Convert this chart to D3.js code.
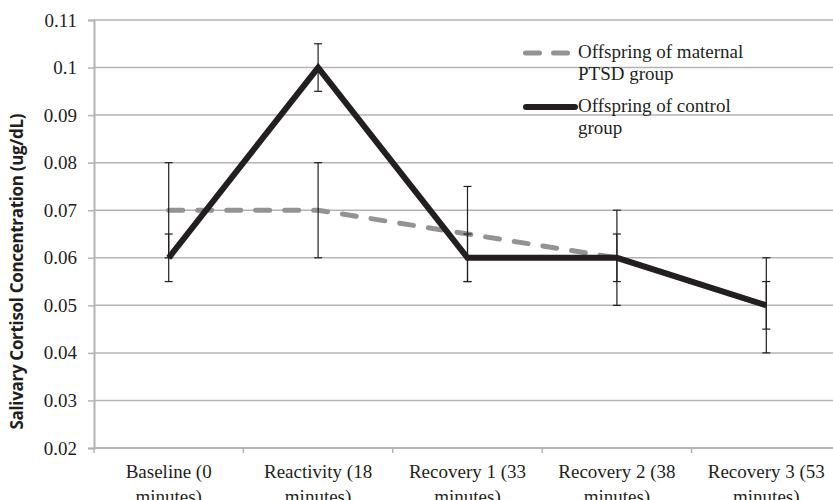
<!DOCTYPE html>
<html>
<head>
<meta charset="utf-8">
<script src="https://cdn.jsdelivr.net/npm/d3@7"></script>
<style>
  body { margin: 0; background: #fff; }
  svg { display: block; }
</style>
</head>
<body>
<svg id="chart"></svg>
<script>
(function () {

  var categories = [
    ['Baseline (0', 'minutes)'],
    ['Reactivity (18', 'minutes)'],
    ['Recovery 1 (33', 'minutes)'],
    ['Recovery 2 (38', 'minutes)'],
    ['Recovery 3 (53', 'minutes)']
  ];
  var ptsdValues = [0.07, 0.07, 0.065, 0.06, 0.05];
  var ptsdErrors = [0.01, 0.01, 0.01, 0.01, 0.01];
  var controlValues = [0.06, 0.1, 0.06, 0.06, 0.05];
  var controlErrors = [0.005, 0.005, 0.005, 0.005, 0.005];
  var yTicks = [0.02, 0.03, 0.04, 0.05, 0.06, 0.07, 0.08, 0.09, 0.1, 0.11];
  var legendLabels = [
    ['Offspring of maternal', 'PTSD group'],
    ['Offspring of control', 'group']
  ];

  var width = 833, height = 500;
  var margin = {top: 20, right: -8, bottom: 52, left: 94};
  var w = width - margin.left - margin.right,
      h = height - margin.top - margin.bottom;

  var svg = d3.select("#chart").attr("width", width).attr("height", height);
  var g = svg.append("g").attr("transform", "translate(" + margin.left + "," + margin.top + ")");

  var idx = d3.range(categories.length);
  var x = d3.scaleBand().domain(idx).range([0, w]);
  var y = d3.scaleLinear().domain([0.02, 0.11]).range([h, 0]);
  var cx = function(i) { return x(i) + x.bandwidth() / 2; };

  var serif = "'Liberation Serif', serif";
  var textColor = "#231f20";
  var gridColor = "#b3b3b3";

  // gridlines
  g.selectAll(".grid").data(yTicks).enter().append("line")
    .attr("x1", 0).attr("x2", w)
    .attr("y1", function(d) { return y(d); }).attr("y2", function(d) { return y(d); })
    .style("stroke", gridColor).style("stroke-width", 1.5);

  // y axis
  var yAxis = g.append("g").attr("class", "axis axis--y")
    .call(d3.axisLeft(y).tickValues(yTicks).tickSize(6)
      .tickFormat(function(d) { return +d.toFixed(2) + ""; }));
  yAxis.select(".domain").style("stroke", gridColor).style("stroke-width", 2);
  yAxis.selectAll(".tick line").style("stroke", gridColor).style("stroke-width", 1.5);
  yAxis.selectAll("text")
    .attr("x", -17)
    .style("font-family", serif).style("font-size", "19px").style("fill", textColor);

  // x axis
  var xAxis = g.append("g").attr("class", "axis axis--x")
    .attr("transform", "translate(0," + h + ")");
  xAxis.append("line").attr("x1", 0).attr("x2", w)
    .style("stroke", gridColor).style("stroke-width", 2);
  xAxis.selectAll(".xtick").data(d3.range(categories.length + 1)).enter().append("line")
    .attr("x1", function(i) { return i * x.bandwidth(); })
    .attr("x2", function(i) { return i * x.bandwidth(); })
    .attr("y1", 0).attr("y2", 5)
    .style("stroke", gridColor).style("stroke-width", 1.5);
  var xl = xAxis.selectAll(".xlabel").data(idx).enter().append("text")
    .attr("x", cx).attr("y", 30)
    .style("text-anchor", "middle")
    .style("font-family", serif).style("font-size", "19px").style("fill", textColor);
  xl.append("tspan").attr("x", cx).attr("dy", 0).text(function(i) { return categories[i][0]; });
  xl.append("tspan").attr("x", cx).attr("dy", 25).text(function(i) { return categories[i][1]; });

  // y title
  g.append("text")
    .attr("transform", "translate(" + (23 - margin.left) + "," + (271.5 - margin.top) + ") rotate(-90)")
    .attr("textLength", 316).attr("lengthAdjust", "spacing")
    .style("text-anchor", "middle")
    .style("font-family", "'Open Sans', sans-serif").style("font-weight", "bold")
    .style("font-size", "17px").style("fill", textColor)
    .text("Salivary Cortisol Concentration (ug/dL)");

  var line = d3.line()
    .x(function(d, i) { return cx(i); })
    .y(function(d) { return y(d); });

  // PTSD series (dashed)
  g.append("path")
    .attr("d", line(ptsdValues))
    .style("fill", "none").style("stroke", "#939393").style("stroke-width", 5)
    .style("stroke-dasharray", "14,15").style("stroke-linecap", "round");

  // control series
  g.append("path")
    .attr("d", line(controlValues))
    .style("fill", "none").style("stroke", "#231f20").style("stroke-width", 6)
    .style("stroke-linejoin", "miter");

  // error bars
  function errorBars(values, errors) {
    var eg = g.append("g");
    idx.forEach(function(i) {
      var lo = y(values[i] - errors[i]), hi = y(values[i] + errors[i]), px = cx(i);
      eg.append("line").attr("x1", px).attr("x2", px).attr("y1", lo).attr("y2", hi);
      eg.append("line").attr("x1", px - 4).attr("x2", px + 4).attr("y1", lo).attr("y2", lo);
      eg.append("line").attr("x1", px - 4).attr("x2", px + 4).attr("y1", hi).attr("y2", hi);
    });
    eg.selectAll("line").style("stroke", "#231f20").style("stroke-width", 1.2);
  }
  errorBars(ptsdValues, ptsdErrors);
  errorBars(controlValues, controlErrors);

  // legend
  var lg = svg.append("g").attr("transform", "translate(523,53)");
  lg.append("line").attr("x1", 2.5).attr("x2", 47).attr("y1", 0).attr("y2", 0)
    .style("stroke", "#939393").style("stroke-width", 5)
    .style("stroke-dasharray", "14,14").style("stroke-linecap", "round");
  lg.append("line").attr("x1", 3).attr("x2", 52).attr("y1", 54).attr("y2", 54)
    .style("stroke", "#231f20").style("stroke-width", 6).style("stroke-linecap", "round");
  legendLabels.forEach(function(lab, k) {
    var t = lg.append("text").attr("x", 55).attr("y", 5 + k * 54)
      .style("font-family", serif).style("font-size", "19px").style("fill", textColor);
    t.append("tspan").attr("x", 55).attr("dy", 0).text(lab[0]);
    t.append("tspan").attr("x", 55).attr("dy", 22).text(lab[1]);
  });
})();
</script>
</body>
</html>
